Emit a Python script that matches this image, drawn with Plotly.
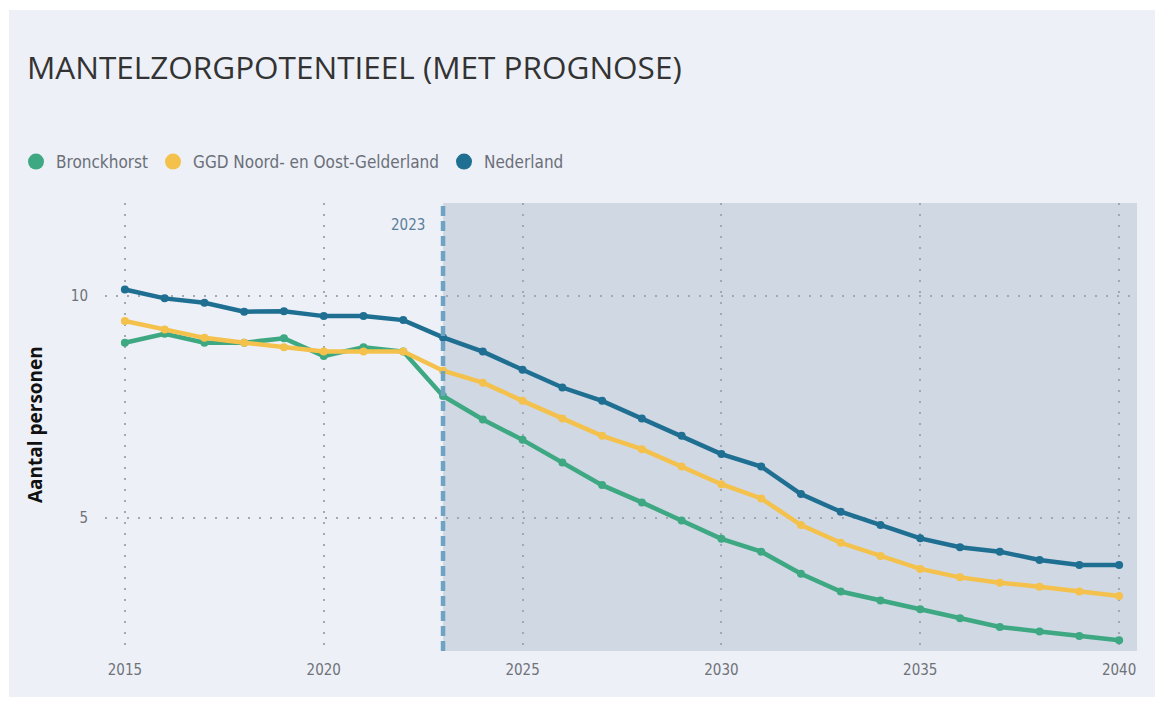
import plotly.graph_objects as go

years = list(range(2015, 2041))
bronckhorst = [8.95, 9.15, 8.95, 8.95, 9.05, 8.65, 8.85, 8.75, 7.75, 7.22, 6.76, 6.25,
               5.74, 5.35, 4.94, 4.53, 4.24, 3.74, 3.34, 3.14, 2.94, 2.74, 2.54, 2.44, 2.34, 2.24]
ggd = [9.44, 9.25, 9.06, 8.95, 8.85, 8.75, 8.75, 8.75, 8.32, 8.05, 7.64, 7.24,
       6.85, 6.55, 6.16, 5.76, 5.44, 4.84, 4.44, 4.14, 3.85, 3.66, 3.54, 3.45, 3.34, 3.24]
nederland = [10.15, 9.95, 9.85, 9.65, 9.66, 9.55, 9.55, 9.46, 9.07, 8.75, 8.34, 7.94,
             7.64, 7.24, 6.85, 6.44, 6.16, 5.54, 5.14, 4.84, 4.54, 4.34, 4.24, 4.05, 3.94, 3.94]

series_names = ["Bronckhorst", "GGD Noord- en Oost-Gelderland", "Nederland"]
series_values = [bronckhorst, ggd, nederland]
series_colors = ["#3da882", "#f4c24c", "#1f6f92"]

x_ticks = [2015, 2020, 2025, 2030, 2035, 2040]
y_ticks = [5, 10]
prognosis_start = 2023
x_range = [2014.5, 2040.45]
y_range = [2.0, 12.1]

BG = "#edf0f7"
SHADE = "#d0d8e3"

W, H = 1155, 694
ML, MR, MT, MB = 97, 26, 195, 51
PW, PH = W - ML - MR, H - MT - MB

fig = go.Figure()

for name, vals, col in zip(series_names, series_values, series_colors):
    fig.add_trace(go.Scatter(
        x=years, y=vals, mode="lines+markers", name=name,
        line=dict(color=col, width=4.5),
        marker=dict(color=col, size=8),
        showlegend=False,
    ))
    fig.add_trace(go.Scatter(
        x=[None], y=[None], mode="markers", name=name,
        marker=dict(color=col, size=17),
        showlegend=True,
    ))

# card background (covers margins, leaves white border)
fig.add_shape(type="rect", xref="paper", yref="paper",
              x0=(1 - ML) / PW, x1=(1148 - ML) / PW,
              y0=1 - (689 - MT) / PH, y1=1 + (MT - 2) / PH,
              fillcolor=BG, line_width=0, layer="below")
# shaded prognosis region
fig.add_shape(type="rect", xref="x", yref="paper", x0=prognosis_start, x1=x_range[1],
              y0=0, y1=1, fillcolor=SHADE, line_width=0, layer="below")
# dashed vertical line
fig.add_shape(type="line", xref="x", yref="paper", x0=prognosis_start, x1=prognosis_start,
              y0=0, y1=1, line=dict(color="#6fa3c3", width=4.5, dash="10px,5px"), layer="above")
fig.add_annotation(x=prognosis_start, y=1, xref="x", yref="paper", text="2023",
                   showarrow=False, xanchor="right", yanchor="middle", xshift=-16,
                   yshift=-(225 - 203),
                   font=dict(family="DejaVu Sans Condensed", size=15, color="#5a7f99"))
# y-axis title
fig.add_annotation(x=(27 - ML) / PW, y=1 - (417 - MT) / PH, xref="paper", yref="paper",
                   text="<b>Aantal personen</b>", textangle=-90, showarrow=False,
                   xanchor="center", yanchor="middle",
                   font=dict(family="Open Sans", size=19, color="#111111"))

fig.update_layout(
    width=W, height=H,
    paper_bgcolor="white", plot_bgcolor="rgba(0,0,0,0)",
    margin=dict(l=ML, r=MR, t=MT, b=MB),
    title=dict(text="MANTELZORGPOTENTIEEL (MET PROGNOSE)", x=19 / W, xanchor="left",
               y=1 - 60 / H, yanchor="middle",
               font=dict(family="Open Sans", size=31.5, color="#333333")),
    legend=dict(orientation="h", xref="container", yref="container",
                x=8 / W, y=1 - 154 / H, xanchor="left", yanchor="middle",
                font=dict(family="DejaVu Sans Condensed", size=17, color="#6b6f78"),
                itemwidth=30, tracegroupgap=0, bgcolor="rgba(0,0,0,0)"),
    showlegend=True,
)
fig.update_xaxes(range=x_range, tickvals=x_ticks, showgrid=True, gridcolor="#a3a9b2",
                 griddash="2px,9px", gridwidth=1.5, zeroline=False, showline=False,
                 ticks="", ticklabelstandoff=8,
                 tickfont=dict(family="DejaVu Sans Condensed", size=15, color="#6f7277"))
fig.update_yaxes(range=y_range, tickvals=y_ticks, showgrid=True, gridcolor="#a3a9b2",
                 griddash="2px,9px", gridwidth=1.5, zeroline=False, showline=False,
                 ticks="", ticklabelstandoff=16,
                 tickfont=dict(family="DejaVu Sans Condensed", size=15, color="#6f7277"))

fig.write_html("out.html")
